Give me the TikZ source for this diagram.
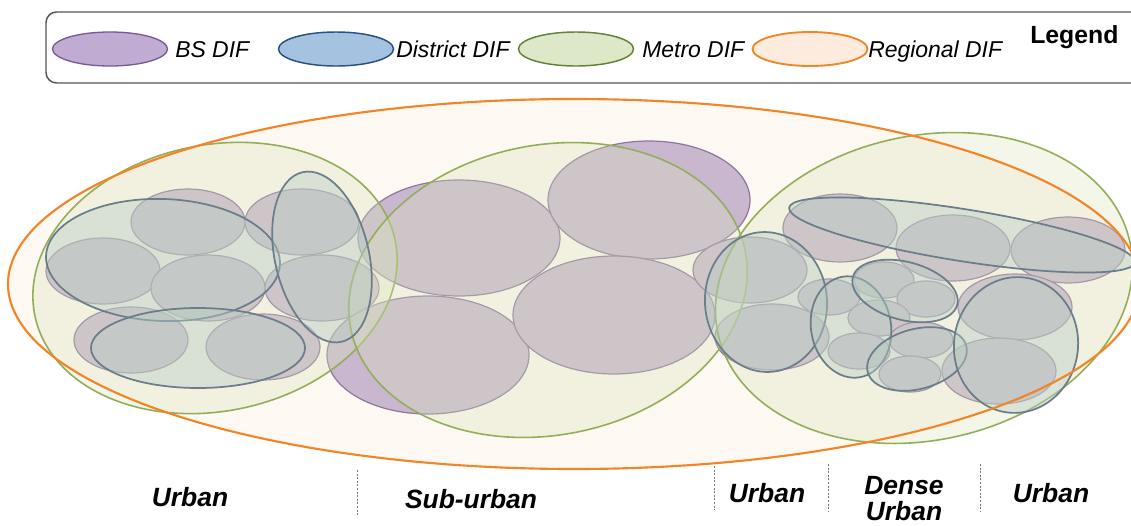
\documentclass[tikz,border=0pt]{standalone}
\usepackage{fontspec}
\setmainfont{Liberation Sans}
\definecolor{bsfill}{RGB}{201,183,207}
\definecolor{bsline}{RGB}{140,118,158}
\definecolor{bslegfill}{RGB}{192,172,210}
\definecolor{bslegline}{RGB}{120,90,150}
\definecolor{distfill}{RGB}{185,205,195}
\definecolor{distline}{RGB}{105,125,138}
\definecolor{distlegfill}{RGB}{165,195,225}
\definecolor{distlegline}{RGB}{40,80,130}
\definecolor{metrofill}{RGB}{219,229,189}
\definecolor{metroline}{RGB}{148,174,88}
\definecolor{metrolegfill}{RGB}{220,232,200}
\definecolor{metrolegline}{RGB}{100,130,55}
\definecolor{regfill}{RGB}{253,248,242}
\definecolor{regline}{RGB}{242,133,38}
\definecolor{reglegfill}{RGB}{253,236,222}
\definecolor{boxline}{RGB}{85,85,85}
\definecolor{segline}{RGB}{120,120,120}
% one rotated ellipse: style, centre x, centre y, x radius, y radius, angle
\newcommand{\difzone}[6]{\path[#1,shift={(#2,#3)},rotate=#6] (0,0) ellipse [x radius=#4, y radius=#5];}
\begin{document}
\begin{tikzpicture}[x=0.75pt,y=-0.75pt,
  bsdif/.style={fill=bsfill, draw=bsline, line width=0.9pt},
  distdif/.style={fill=distfill, fill opacity=0.44, draw=distline, draw opacity=1, line width=1.3pt},
  metrodif/.style={fill=metrofill, fill opacity=0.32, draw=metroline, draw opacity=1, line width=1.2pt},
  regdif/.style={fill=regfill},
  regrim/.style={draw=regline, line width=1.6pt},
  legbox/.style={draw=boxline, line width=1.1pt, rounded corners=8pt, fill=white},
  legtext/.style={anchor=base west, font=\fontsize{17.2pt}{20pt}\selectfont\itshape, inner sep=0pt},
  legtitle/.style={anchor=base west, font=\fontsize{18.6pt}{22pt}\selectfont\bfseries, inner sep=0pt},
  arealabel/.style={anchor=base, font=\fontsize{19.8pt}{24pt}\selectfont\bfseries\itshape, inner sep=0pt},
  seg/.style={draw=segline, line width=0.7pt, dash pattern=on 1.5pt off 1.2pt}
]
\useasboundingbox (0,0) rectangle (1131,525);
\clip (0,0) rectangle (1131,525);
\fill[white] (0,0) rectangle (1131,525);

% ---------- legend ----------
\draw[legbox] (46,12) rectangle (1150,83);
\difzone{fill=bslegfill, draw=bslegline, line width=1pt}{110}{49}{57.5}{17}{0}
\node[legtext] (lgbs) at (175,57) {BS DIF};
\difzone{fill=distlegfill, draw=distlegline, line width=1.1pt}{336}{49}{57.5}{17}{0}
\node[legtext] (lgdist) at (396,57) {District DIF};
\difzone{fill=metrolegfill, draw=metrolegline, line width=1.1pt}{576}{49}{57.5}{17}{0}
\node[legtext] (lgmetro) at (642,57) {Metro DIF};
\difzone{fill=reglegfill, draw=regline, line width=1.4pt}{810}{49}{57.5}{17}{0}
\node[legtext] (lgreg) at (868,57) {Regional DIF};
\node[legtitle] (lgtitle) at (1030,43) {Legend};

% ---------- regional DIF (fill) ----------
\difzone{regdif}{574}{284}{566}{185}{0}

% ---------- BS DIFs ----------
% western urban cluster
\difzone{bsdif}{188}{222}{57}{33}{0}
\difzone{bsdif}{302}{222}{57}{33}{0}
\difzone{bsdif}{103}{271}{57}{33}{0}
\difzone{bsdif}{208}{288}{57}{33}{0}
\difzone{bsdif}{322}{288}{57}{33}{0}
\difzone{bsdif}{131}{340}{57}{33}{0}
\difzone{bsdif}{263}{347}{57}{33}{0}
% sub-urban cluster
\difzone{bsdif}{459}{238}{101}{58}{0}
\difzone{bsdif}{649}{200}{101}{59}{0}
\difzone{bsdif}{428}{355}{101}{59}{0}
\difzone{bsdif}{614}{315}{101}{59}{0}
% eastern cluster
\difzone{bsdif}{840}{228}{57}{34}{0}
\difzone{bsdif}{953}{248}{57}{33}{0}
\difzone{bsdif}{1068}{250}{57}{33}{0}
\difzone{bsdif}{750}{270}{57}{33}{0}
\difzone{bsdif}{772}{337}{57}{33}{0}
\difzone{bsdif}{1015}{307}{57}{33}{0}
\difzone{bsdif}{999}{371}{57}{33}{0}
% dense urban small cells
\difzone{bsdif}{829}{297}{31}{18}{0}
\difzone{bsdif}{884}{280}{30}{18}{0}
\difzone{bsdif}{926}{299}{29}{18}{0}
\difzone{bsdif}{879}{318}{31}{18}{0}
\difzone{bsdif}{859}{351}{31}{18}{0}
\difzone{bsdif}{921}{340}{32}{18}{0}
\difzone{bsdif}{910}{374}{31}{18}{0}

% ---------- metro DIFs ----------
\difzone{metrodif}{215}{278}{184}{133}{12}
\difzone{metrodif}{548}{290}{201}{145}{11}
\difzone{metrodif}{924}{288}{211}{152}{12.8}

% ---------- district DIFs ----------
\difzone{distdif}{163}{260}{117}{61}{-2}
\difzone{distdif}{198}{348}{107}{40}{0}
\difzone{distdif}{322}{257}{47}{87}{13}
\difzone{distdif}{962}{235}{175}{26}{-9}
\difzone{distdif}{766}{302}{61}{70}{5}
\difzone{distdif}{851}{327}{40}{51}{10}
\difzone{distdif}{905}{291}{54}{29}{-15}
\difzone{distdif}{917}{359}{51}{30}{15}
\difzone{distdif}{1016}{345}{62}{68}{-8}

% ---------- regional DIF (rim) ----------
\difzone{regrim}{574}{284}{566}{185}{0}

% ---------- area types ----------
\draw[seg] (357,470) -- (357,515);
\draw[seg] (714,466) -- (714,510);
\draw[seg] (828,464) -- (828,512);
\draw[seg] (980,464) -- (980,512);
\node[arealabel] (urbanw) at (190,506) {Urban};
\node[arealabel] (suburban) at (471,508) {Sub-urban};
\node[arealabel] (urbanm) at (767,502) {Urban};
\node[arealabel] (dense) at (904,494) {Dense};
\node[arealabel] (denseu) at (904,520) {Urban};
\node[arealabel] (urbane) at (1051,502) {Urban};
\end{tikzpicture}
\end{document}
